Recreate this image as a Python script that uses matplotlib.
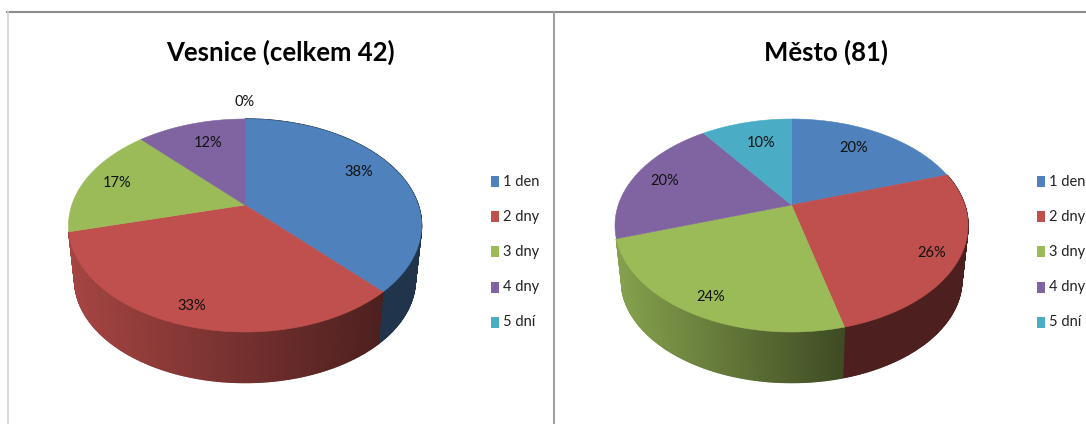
import numpy as np
import matplotlib
matplotlib.use("Agg")
import matplotlib.pyplot as plt
from matplotlib.colors import to_rgb
from matplotlib.patches import Rectangle

categories = ["1 den", "2 dny", "3 dny", "4 dny", "5 dní"]
colors = ["#4f81bd", "#c0504d", "#9bbb59", "#8064a2", "#4bacc6"]

vesnice_title = "Vesnice (celkem 42)"
vesnice_pct = [38, 33, 17, 12, 0]
vesnice_label_xy = [(359, 172), (192, 306), (117, 183), (208, 143), (245, 102)]

mesto_title = "Město (81)"
mesto_pct = [20, 26, 24, 20, 10]
mesto_label_xy = [(854, 148), (932, 253), (711, 297), (665, 181), (761, 143)]

# perspektiva kolacu v pixelech obrazku
RX, RY, PERSP = 173.2, 102.55, 0.1925
APEX_Y = 205
BOTTOM_SCALE, BOTTOM_SHIFT = 0.965, 55
FONT = "Lato"


def project(cx, t, bottom=False):
    """Bod na kruhu (uhel t v radianech) -> pixel na elipse."""
    denom = 1 + PERSP * np.sin(t)
    x = RX * np.cos(t) / denom
    y = RY * np.sin(t) / denom
    if bottom:
        return cx + x * BOTTOM_SCALE, APEX_Y + BOTTOM_SHIFT - y * BOTTOM_SCALE
    return cx + x, APEX_Y - y


def draw_side(ax, cx, t1, t2, color):
    # t1 > t2, jde se po smeru hodin; vysece vzadu nemaji viditelny bok
    if t1 < -0.8 * np.pi:
        return
    ts = np.linspace(t1, t2, max(int((t1 - t2) * 120), 2))
    xs, _ = project(cx, ts)
    base = np.array(to_rgb(color))
    front = np.sin(ts) < 0.2
    if not front.any():
        return
    x_left, x_right = xs[front].min(), xs[front].max()
    flat = x_left > cx
    for a, b in zip(ts[:-1], ts[1:]):
        xa, ya = project(cx, a)
        xb, yb = project(cx, b)
        xc, yc = project(cx, b, bottom=True)
        xd, yd = project(cx, a, bottom=True)
        if flat:
            shade = 0.40
        else:
            k = np.clip(((xa + xb) / 2 - x_left) / (x_right - x_left), 0, 1)
            shade = 0.86 - 0.46 * k
        c = tuple(base * shade)
        ax.fill([xa, xb, xc, xd], [ya, yb, yc, yd], color=c, lw=1.0, zorder=2)


def draw_pie(ax, cx, title, title_x, pct, label_xy, legend_x, title_size):
    edges = 90 - 3.6 * np.cumsum([0] + pct)
    edges = np.radians(edges)

    for i, color in enumerate(colors):
        if pct[i] > 0:
            draw_side(ax, cx, edges[i], edges[i + 1], color)

    for i, color in enumerate(colors):
        if pct[i] == 0:
            continue
        ts = np.linspace(edges[i], edges[i + 1], 200)
        xs, ys = project(cx, ts)
        ax.fill(np.r_[cx, xs], np.r_[APEX_Y, ys], color=color, lw=0.4, zorder=3)

    for value, (x, y) in zip(pct, label_xy):
        ax.text(x, y, f"{value}%", ha="center", va="center", fontsize=10.5,
                family=FONT, color="#111111", zorder=4)

    ax.text(title_x, 52, title, ha="center", va="center", fontsize=title_size,
            fontweight="bold", family=FONT, color="black", zorder=4)

    for i, name in enumerate(categories):
        y = 181.5 + i * 35.2
        ax.add_patch(Rectangle((legend_x, y - 5.5), 8, 11, color=colors[i], lw=0, zorder=4))
        ax.text(legend_x + 12, y, name, ha="left", va="center", fontsize=10.5,
                family=FONT, color="#222222", zorder=4)


fig = plt.figure(figsize=(10.86, 4.24), dpi=100)
ax = fig.add_axes([0, 0, 1, 1])
ax.set_xlim(0, 1086)
ax.set_ylim(424, 0)
ax.axis("off")

# ramecek
ax.plot([7, 1086], [12, 12], color="#8c8c8c", lw=1.5, zorder=1)
ax.plot([7.5, 7.5], [12, 424], color="#d4d4d4", lw=1.2, zorder=1)
ax.plot([553.5, 553.5], [12, 424], color="#a0a0a0", lw=1.5, zorder=1)

draw_pie(ax, 245, vesnice_title, 280.5, vesnice_pct, vesnice_label_xy, 491, 18.5)
draw_pie(ax, 791.5, mesto_title, 825.5, mesto_pct, mesto_label_xy, 1037, 18.5)

fig.savefig("out.png", dpi=100)
plt.close(fig)
